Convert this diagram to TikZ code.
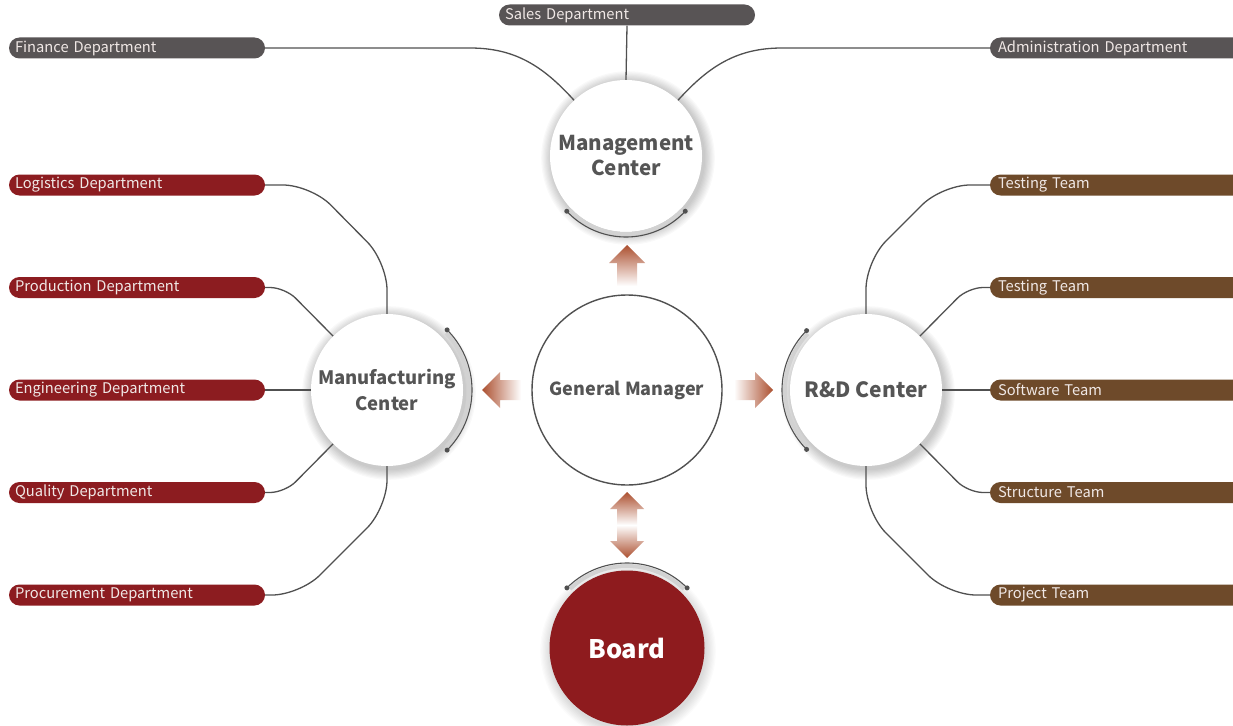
\documentclass[tikz,border=0pt]{standalone}
\usepackage{fontspec}
\setmainfont{Noto Sans CJK SC}
\definecolor{redp}{RGB}{140,28,32}
\definecolor{grayp}{RGB}{88,84,85}
\definecolor{brownp}{RGB}{110,74,42}
\definecolor{boardc}{RGB}{142,27,30}
\definecolor{linec}{RGB}{80,80,80}
\definecolor{txtc}{RGB}{85,85,85}
\definecolor{arrowc}{RGB}{172,80,48}
\definecolor{pilltxt}{RGB}{240,232,230}
\newcommand{\softshadow}[4]{\foreach \i in {1,...,9}{\fill[black,opacity=#4] (#1,#2) circle[radius={#3+\i*1.2}];}}
\begin{document}
\begin{tikzpicture}[x=1pt,y=-1pt,
  pill/.style={minimum width=256, minimum height=21, rounded corners=10.5, text width=244, align=left, inner xsep=6, inner ysep=0, text=pilltxt, font=\fontsize{14.7}{16}\selectfont},
  rpill/.style={pill, minimum width=260, inner xsep=8},
  hub/.style={circle, fill=white, inner sep=0, align=center, text=txtc, minimum size=152, font=\bfseries\fontsize{19.5}{25}\selectfont},
  conn/.style={draw=linec, line width=1.3},
  bandarc/.style={gray!35, line width=4},
  darkarc/.style={linec, line width=1.1}]
\useasboundingbox (0,0) rectangle (1233,725);
\clip (0,0) rectangle (1233,725);
\fill[white] (0,0) rectangle (1233,725);

% shadows
\softshadow{628}{158}{76}{0.025}
\softshadow{389}{393}{76}{0.025}
\softshadow{868}{393}{76}{0.025}
\softshadow{628}{651}{77}{0.015}

% hubs
\node[hub, font=\bfseries\fontsize{20.5}{25}\selectfont] (mgmt) at (626,156) {Management\\Center};
\node[hub, font=\bfseries\fontsize{18.5}{26}\selectfont] (mfg) at (387,390) {Manufacturing\\Center};
\node[hub, font=\bfseries\fontsize{21}{25}\selectfont] (rd) at (866,390) {R\&D Center};
\node[circle, draw=linec, line width=1.4, fill=white, minimum size=190, inner sep=0, text=txtc, font=\bfseries\fontsize{18}{22}\selectfont] (gm) at (627,390) {General Manager};
\node[circle, fill=boardc, minimum size=155, inner sep=0, text=white, font=\bfseries\fontsize{25.5}{30}\selectfont] (board) at (627,648) {Board};

% pills
\node[pill, fill=grayp] (fin) at (137,48) {Finance Department};
\node[pill, fill=grayp] (sales) at (627,15) {Sales Department};
\node[rpill, fill=grayp] (admin) at (1120,48) {Administration Department};

\node[pill, fill=redp] (logi) at (137,185) {Logistics Department};
\node[pill, fill=redp] (prod) at (137,287.5) {Production Department};
\node[pill, fill=redp] (engi) at (137,390) {Engineering Department};
\node[pill, fill=redp] (qual) at (137,492.5) {Quality Department};
\node[pill, fill=redp] (proc) at (137,595) {Procurement Department};

\node[rpill, fill=brownp] (test1) at (1120,185) {Testing Team};
\node[rpill, fill=brownp] (test2) at (1120,287.5) {Testing Team};
\node[rpill, fill=brownp] (soft) at (1120,390) {Software Team};
\node[rpill, fill=brownp] (struct) at (1120,492.5) {Structure Team};
\node[rpill, fill=brownp] (proj) at (1120,595) {Project Team};

% connectors
\draw[conn] (sales.south) -- (mgmt.north);
\draw[conn] (fin.east) -- (470,48) .. controls (515,48) and (543,66) .. (mgmt.133);
\draw[conn] (admin.west) -- (782,48) .. controls (737,48) and (709,66) .. (mgmt.47);

\draw[conn, rounded corners=28] (logi.east) -- (311,185) -- (387,262) -- (mfg.north);
\draw[conn, rounded corners=15] (prod.east) -- (285,287.5) -- (mfg.135);
\draw[conn] (engi.east) -- (mfg.west);
\draw[conn, rounded corners=15] (qual.east) -- (285,492.5) -- (mfg.225);
\draw[conn, rounded corners=28] (proc.east) -- (300,595) -- (387,508) -- (mfg.south);

\draw[conn, rounded corners=28] (test1.west) -- (942,185) -- (866,261) -- (rd.north);
\draw[conn, rounded corners=15] (test2.west) -- (968,287.5) -- (rd.45);
\draw[conn] (soft.west) -- (rd.east);
\draw[conn, rounded corners=15] (struct.west) -- (968,492.5) -- (rd.-45);
\draw[conn, rounded corners=28] (proj.west) -- (948,595) -- (866,513) -- (rd.south);

% arcs
\draw[bandarc] plot[domain=-44:44, samples=40] ({387+82*cos(\x)},{390+82*sin(\x)});
\draw[darkarc] plot[domain=-45:45, samples=40] ({387+85*cos(\x)},{390+85*sin(\x)});
\fill[linec] ({387+85*cos(45)},{390-85*sin(45)}) circle[radius=2.5];
\fill[linec] ({387+85*cos(45)},{390+85*sin(45)}) circle[radius=2.5];

\draw[bandarc] plot[domain=136:224, samples=40] ({866+81*cos(\x)},{390+81*sin(\x)});
\draw[darkarc] plot[domain=135:225, samples=40] ({866+84*cos(\x)},{390+84*sin(\x)});
\fill[linec] ({866-84*cos(45)},{390-84*sin(45)}) circle[radius=2.5];
\fill[linec] ({866-84*cos(45)},{390+84*sin(45)}) circle[radius=2.5];

\draw[bandarc] plot[domain=44:136, samples=40] ({626+78*cos(\x)},{156+78*sin(\x)});
\draw[darkarc] plot[domain=43:137, samples=40] ({626+81*cos(\x)},{156+81*sin(\x)});
\fill[linec] ({626+81*cos(43)},{156+81*sin(43)}) circle[radius=2.5];
\fill[linec] ({626-81*cos(43)},{156+81*sin(43)}) circle[radius=2.5];

\draw[bandarc] plot[domain=226:314, samples=40] ({627+82*cos(\x)},{648+82*sin(\x)});
\draw[darkarc] plot[domain=225:315, samples=40] ({627+85*cos(\x)},{648+85*sin(\x)});
\fill[linec] ({627-85*cos(45)},{648-85*sin(45)}) circle[radius=2.5];
\fill[linec] ({627+85*cos(45)},{648-85*sin(45)}) circle[radius=2.5];

% gradient arrows
\shade[top color=arrowc, bottom color=white] (627,245) -- (645,263) -- (637,263) -- (637,286) -- (617,286) -- (617,263) -- (609,263) -- cycle;
\shade[left color=arrowc, right color=white] (482,390) -- (500,372) -- (500,380) -- (521,380) -- (521,400) -- (500,400) -- (500,408) -- cycle;
\shade[left color=white, right color=arrowc] (773,390) -- (755,372) -- (755,380) -- (734,380) -- (734,400) -- (755,400) -- (755,408) -- cycle;
\shade[top color=arrowc, bottom color=white] (627,492) -- (644,509) -- (637,509) -- (637,525) -- (617,525) -- (617,509) -- (610,509) -- cycle;
\shade[top color=white, bottom color=arrowc] (627,558) -- (644,541) -- (637,541) -- (637,525) -- (617,525) -- (617,541) -- (610,541) -- cycle;
\end{tikzpicture}
\end{document}
